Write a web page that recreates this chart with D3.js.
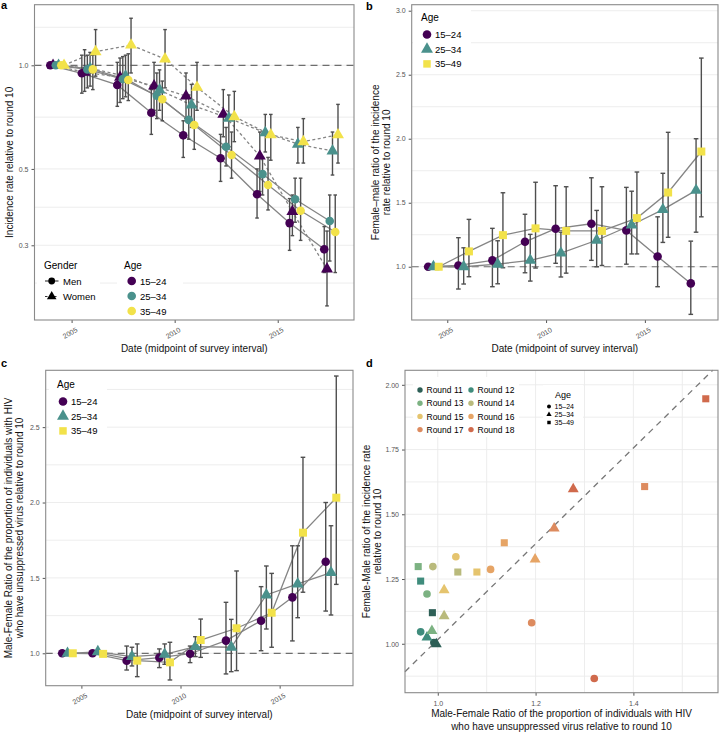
<!DOCTYPE html>
<html lang="en">
<head>
<meta charset="UTF-8">
<title>Incidence and unsuppressed virus ratios by round</title>
<script src="https://cdn.jsdelivr.net/npm/d3@7"></script>
<style>
  body { margin: 0; background: white; }
  svg text { font-family: 'Liberation Sans', Arial, Helvetica, sans-serif; }
</style>
</head>
<body>
<svg id="chart" width="720" height="734"></svg>
<script>
// ---- data (rounds 10-18) ----
var roundDates = [2004.3, 2005.83, 2007.55, 2009.2, 2010.75, 2012.56, 2014.33, 2015.91, 2017.59];
var ageGroups = ["15–24", "25–34", "35–49"];
var genders = ["Men", "Women"];
var dateTicks = [2005, 2010, 2015];

// panel a: incidence rate relative to round 10 (log scale)
var aMen1524 = [1, 0.948, 0.877, 0.728, 0.626, 0.537, 0.422, 0.348, 0.292];
var aMen1524Lo = [1, 0.83, 0.76, 0.63, 0.54, 0.46, 0.36, 0.29, 0.25];
var aMen1524Hi = [1, 1.07, 1.02, 0.85, 0.69, 0.63, 0.50, 0.41, 0.34];
var aWom1524 = [1, 0.955, 0.923, 0.871, 0.814, 0.721, 0.545, 0.376, 0.256];
var aWom1524Lo = [1, 0.84, 0.78, 0.74, 0.70, 0.62, 0.43, 0.32, 0.20];
var aWom1524Hi = [1, 1.11, 1.05, 1.02, 0.95, 0.85, 0.64, 0.42, 0.33];
var aMen2534 = [1, 0.973, 0.912, 0.816, 0.694, 0.580, 0.483, 0.408, 0.353];
var aMen2534Lo = [1, 0.86, 0.80, 0.70, 0.61, 0.51, 0.42, 0.35, 0.27];
var aMen2534Hi = [1, 1.07, 1.06, 0.95, 0.82, 0.66, 0.54, 0.47, 0.42];
var aWom2534 = [1, 0.98, 0.93, 0.848, 0.767, 0.702, 0.637, 0.590, 0.564];
var aWom2534Lo = [1, 0.87, 0.81, 0.74, 0.66, 0.58, 0.56, 0.52, 0.48];
var aWom2534Hi = [1, 1.09, 1.07, 0.97, 0.88, 0.82, 0.72, 0.66, 0.64];
var aMen3549 = [1, 0.973, 0.906, 0.797, 0.671, 0.549, 0.449, 0.378, 0.328];
var aMen3549Lo = [1, 0.85, 0.79, 0.69, 0.57, 0.47, 0.38, 0.31, 0.25];
var aMen3549Hi = [1, 1.07, 1.08, 0.90, 0.76, 0.64, 0.54, 0.47, 0.42];
var aWom3549 = [1, 1.095, 1.145, 1.043, 0.863, 0.709, 0.628, 0.600, 0.628];
var aWom3549Lo = [1, 0.93, 0.95, 0.86, 0.74, 0.60, 0.53, 0.52, 0.52];
var aWom3549Hi = [1, 1.27, 1.37, 1.27, 1.02, 0.84, 0.72, 0.70, 0.77];

// panel b: female-male ratio of incidence relative to round 10
var b1524 = [1, 1.01, 1.05, 1.195, 1.297, 1.336, 1.284, 1.08, 0.87];
var b1524Lo = [1, 0.826, 0.844, 0.953, 1.027, 1.05, 1.02, 0.844, 0.628];
var b1524Hi = [1, 1.227, 1.30, 1.41, 1.633, 1.695, 1.62, 1.39, 1.20];
var b2534 = [1, 1.0, 1.02, 1.05, 1.107, 1.207, 1.326, 1.446, 1.597];
var b2534Lo = [1, 0.865, 0.867, 0.888, 0.92, 1.0, 1.10, 1.19, 1.27];
var b2534Hi = [1, 1.148, 1.203, 1.253, 1.27, 1.44, 1.59, 1.73, 2.0];
var b3549 = [1, 1.12, 1.247, 1.30, 1.28, 1.28, 1.38, 1.58, 1.90];
var b3549Lo = [1, 0.922, 0.992, 0.99, 0.95, 1.01, 1.10, 1.23, 1.39];
var b3549Hi = [1, 1.37, 1.578, 1.66, 1.625, 1.625, 1.74, 2.05, 2.63];

// panel c: male-female ratio of proportion with unsuppressed virus
var c1524 = [1, 1.0, 0.951, 0.971, 0.997, 1.084, 1.216, 1.371, 1.607];
var c1524Lo = [1, 1.0, 0.889, 0.905, 0.938, 0.863, 1.017, 1.082, 1.28];
var c1524Hi = [1, 1.0, 1.048, 1.029, 1.048, 1.338, 1.442, 1.713, 2.0];
var c2534 = [1, 1.01, 0.978, 0.993, 1.044, 1.040, 1.387, 1.46, 1.535];
var c2534Lo = [1, 1.01, 0.916, 0.927, 0.978, 0.878, 1.161, 1.236, 1.254];
var c2534Hi = [1, 1.01, 1.04, 1.062, 1.11, 1.225, 1.579, 1.713, 1.846];
var c3549 = [1, 0.996, 0.951, 0.940, 1.088, 1.166, 1.269, 1.80, 2.032];
var c3549Lo = [1, 0.996, 0.845, 0.823, 0.973, 0.885, 1.04, 1.405, 1.457];
var c3549Hi = [1, 0.996, 1.062, 1.073, 1.227, 1.546, 1.53, 2.30, 2.839];

// panel d: rounds 11-18, x = unsuppressed ratio, y = incidence ratio
var dRounds = ["Round 11", "Round 12", "Round 13", "Round 14", "Round 15", "Round 16", "Round 17", "Round 18"];
var d1524x = [0.992, 0.965, 0.978, 0.990, 1.037, 1.108, 1.192, 1.320];
var d1524y = [1.005, 1.046, 1.192, 1.298, 1.336, 1.287, 1.081, 0.866];
var d2534x = [0.997, 0.978, 0.988, 1.013, 1.013, 1.199, 1.238, 1.277];
var d2534y = [0.999, 1.025, 1.050, 1.107, 1.207, 1.326, 1.446, 1.597];
var d3549x = [0.989, 0.965, 0.960, 1.041, 1.080, 1.136, 1.423, 1.548];
var d3549y = [1.120, 1.242, 1.298, 1.277, 1.277, 1.390, 1.607, 1.946];
var dLineSlope = 1.85, dLineIntercept = -0.834;

// ---- styles ----
var ageColors = ["#440154", "#4a918c", "#f2e24a"];
var roundColors = ["#2d5f56", "#3f8c7c", "#7cb282", "#b9ba7c", "#e5c46e", "#e6a465", "#dd8b5f", "#d06a4c"];
var gridColor = "#ebebeb", lineColor = "#858585", barColor = "#4f4f4f";
var shapes = [d3.symbolCircle, d3.symbolTriangle, d3.symbolSquare];

var svg = d3.select("#chart");

function drawPanel(p) {
  var x = d3.scaleLinear().domain(p.xDomain).range([p.left, p.right]);
  var y = (p.log ? d3.scaleLog() : d3.scaleLinear()).domain(p.yDomain).range([p.bottom, p.top]);
  var g = svg.append("g");

  // grid lines
  g.selectAll(null).data(p.yGrid).enter().append("line")
    .attr("x1", p.left).attr("x2", p.right)
    .attr("y1", function(d) { return y(d); }).attr("y2", function(d) { return y(d); })
    .attr("stroke", gridColor).attr("stroke-width", 0.9);
  if (p.xGrid) {
    g.selectAll(null).data(p.xGrid).enter().append("line")
      .attr("y1", p.top).attr("y2", p.bottom)
      .attr("x1", function(d) { return x(d); }).attr("x2", function(d) { return x(d); })
      .attr("stroke", gridColor).attr("stroke-width", 0.9);
  }

  // axes
  var xa = g.append("g").attr("transform", "translate(0," + p.bottom + ")")
    .call(d3.axisBottom(x).tickValues(p.xTicks).tickSize(3).tickPadding(5).tickFormat(p.xFormat));
  var ya = g.append("g").attr("transform", "translate(" + p.left + ",0)")
    .call(d3.axisLeft(y).tickValues(p.yTicks).tickSize(3).tickPadding(3).tickFormat(p.yFormat));
  [xa, ya].forEach(function(a) {
    a.select(".domain").remove();
    a.selectAll("line").attr("stroke", "#555");
    a.selectAll("text").attr("fill", "#555").style("font-size", "7px");
  });
  if (p.rotateX) {
    xa.selectAll("text")
      .attr("text-anchor", "end").attr("y", 0).attr("dy", "0.7em")
      .attr("transform", "translate(3.5,7) rotate(-30)");
  }

  // axis titles
  var xt = g.append("text").attr("x", (p.left + p.right) / 2).attr("y", p.xTitleY)
    .attr("text-anchor", "middle").style("font-size", "10px").attr("fill", "#111");
  p.xTitle.forEach(function(t, i) {
    xt.append("tspan").attr("x", (p.left + p.right) / 2).attr("dy", i ? 13 : 0).text(t);
  });
  var cy = (p.top + p.bottom) / 2;
  p.yTitle.forEach(function(t, i) {
    g.append("text")
      .attr("transform", "translate(" + (p.yTitleX + i * 10.5) + "," + cy + ") rotate(-90)")
      .attr("text-anchor", "middle").style("font-size", "10px").attr("fill", "#111")
      .text(t);
  });

  // panel letter
  g.append("text").attr("x", p.letterX).attr("y", p.letterY)
    .style("font-size", "11px").style("font-weight", "bold").text(p.letter);

  return { x: x, y: y, g: g, p: p };
}

function refLine(P, v) {
  P.g.append("line")
    .attr("x1", P.p.left).attr("x2", P.p.right)
    .attr("y1", P.y(v)).attr("y2", P.y(v))
    .attr("stroke", "#6e6e6e").attr("stroke-width", 1.2).attr("stroke-dasharray", "7,5");
}

function border(P) {
  P.g.append("rect").attr("x", P.p.left).attr("y", P.p.top)
    .attr("width", P.p.right - P.p.left).attr("height", P.p.bottom - P.p.top)
    .attr("fill", "none").attr("stroke", "#8a8a8a").attr("stroke-width", 1.1);
}

// series: {xs (dates), est, lo, hi, color, shape, size, dashed}
function drawSeriesLines(P, list) {
  var line = d3.line().x(function(d) { return P.x(d[0]); }).y(function(d) { return P.y(d[1]); });
  list.forEach(function(s) {
    P.g.append("path").datum(s.xs.map(function(d, i) { return [d, s.est[i]]; }))
      .attr("d", line).attr("fill", "none").attr("stroke", lineColor).attr("stroke-width", 1.3)
      .attr("stroke-dasharray", s.dashed ? "3,2.5" : null);
  });
}
function drawSeriesBars(P, list, cap) {
  list.forEach(function(s) {
    s.xs.forEach(function(d, i) {
      if (s.lo[i] === s.hi[i]) return;
      var px = P.x(d), y1 = P.y(s.lo[i]), y2 = P.y(s.hi[i]);
      var gb = P.g.append("g").attr("stroke", barColor).attr("stroke-width", 1.4);
      gb.append("line").attr("x1", px).attr("x2", px).attr("y1", y1).attr("y2", y2);
      gb.append("line").attr("x1", px - cap).attr("x2", px + cap).attr("y1", y1).attr("y2", y1);
      gb.append("line").attr("x1", px - cap).attr("x2", px + cap).attr("y1", y2).attr("y2", y2);
    });
  });
}
function drawSeriesPoints(P, list) {
  list.forEach(function(s) {
    P.g.selectAll(null).data(s.xs.map(function(d, i) { return [d, s.est[i]]; })).enter()
      .append("path")
      .attr("d", d3.symbol().type(s.shape).size(s.size))
      .attr("transform", function(d) { return "translate(" + P.x(d[0]) + "," + P.y(d[1]) + ")"; })
      .attr("fill", s.color);
  });
}
function dodge(n, k, width) {
  var off = (k - (n - 1) / 2) * width / n;
  return roundDates.map(function(d) { return d + off; });
}

var xDateDomain = [2003.2, 2018.7];
var yearFmt = d3.format("d");

// ================= panel a =================
var A = drawPanel({
  left: 34.5, right: 354, top: 4.7, bottom: 320, log: true,
  xDomain: xDateDomain, yDomain: [0.182, 1.5],
  xTicks: dateTicks, xFormat: yearFmt, rotateX: true,
  yTicks: [0.3, 0.5, 1.0], yFormat: d3.format(".1f"),
  yGrid: [0.233, 0.3, 0.387, 0.5, 0.707, 1.0, 1.29],
  xTitle: ["Date (midpoint of survey interval)"], xTitleY: 352,
  yTitle: ["Incidence rate relative to round 10"], yTitleX: 12.5,
  letter: "a", letterX: 1, letterY: 8.5
});
refLine(A, 1);
var aEst = [aMen1524, aWom1524, aMen2534, aWom2534, aMen3549, aWom3549];
var aLo = [aMen1524Lo, aWom1524Lo, aMen2534Lo, aWom2534Lo, aMen3549Lo, aWom3549Lo];
var aHi = [aMen1524Hi, aWom1524Hi, aMen2534Hi, aWom2534Hi, aMen3549Hi, aWom3549Hi];
var aSeries = aEst.map(function(est, k) {
  var age = Math.floor(k / 2), women = k % 2 === 1;
  return { xs: dodge(6, k, 0.8), est: est, lo: aLo[k], hi: aHi[k], color: ageColors[age],
           shape: women ? d3.symbolTriangle : d3.symbolCircle, size: women ? 62 : 58, dashed: women };
});
drawSeriesLines(A, aSeries);
drawSeriesBars(A, aSeries, 1.8);
drawSeriesPoints(A, aSeries);

// legends for panel a
A.g.append("rect").attr("x", 37).attr("y", 256).attr("width", 63).attr("height", 50).attr("fill", "white");
A.g.append("rect").attr("x", 117).attr("y", 256).attr("width", 66).attr("height", 62).attr("fill", "white");
A.g.append("text").attr("x", 44).attr("y", 269).style("font-size", "10px").text("Gender");
genders.forEach(function(gname, i) {
  var yy = 281 + i * 15.5;
  A.g.append("line").attr("x1", 45).attr("x2", 58.5).attr("y1", yy).attr("y2", yy)
    .attr("stroke", "#333").attr("stroke-width", 1.1).attr("stroke-dasharray", i ? "2.5,2" : null);
  A.g.append("path").attr("d", d3.symbol().type(i ? d3.symbolTriangle : d3.symbolCircle).size(i ? 40 : 36))
    .attr("transform", "translate(51.7," + yy + ")").attr("fill", "black");
  A.g.append("text").attr("x", 63).attr("y", yy + 3.5).style("font-size", "9.5px").text(gname);
});
A.g.append("text").attr("x", 124).attr("y", 269).style("font-size", "10px").text("Age");
ageGroups.forEach(function(a, i) {
  var yy = 281 + i * 15;
  A.g.append("path").attr("d", d3.symbol().type(d3.symbolCircle).size(58))
    .attr("transform", "translate(131.7," + yy + ")").attr("fill", ageColors[i]);
  A.g.append("text").attr("x", 140).attr("y", yy + 3.5).style("font-size", "9.5px").text(a);
});
border(A);

// ================= panel b =================
var B = drawPanel({
  left: 411.7, right: 718, top: 4.7, bottom: 320,
  xDomain: xDateDomain, yDomain: [0.584, 3.047],
  xTicks: dateTicks, xFormat: yearFmt, rotateX: true,
  yTicks: [1.0, 1.5, 2.0, 2.5, 3.0], yFormat: d3.format(".1f"),
  yGrid: [0.75, 1.0, 1.25, 1.5, 1.75, 2.0, 2.25, 2.5, 2.75, 3.0],
  xTitle: ["Date (midpoint of survey interval)"], xTitleY: 351.5,
  yTitle: ["Female–male ratio of the incidence", "rate relative to round 10"], yTitleX: 379,
  letter: "b", letterX: 366, letterY: 9.5
});
refLine(B, 1);
function threeSeries(est, lo, hi) {
  return est.map(function(e, k) {
    return { xs: dodge(3, k, 0.8), est: e, lo: lo[k], hi: hi[k], color: ageColors[k],
             shape: shapes[k], size: [58, 62, 64][k], dashed: false };
  });
}
var bSeries = threeSeries([b1524, b2534, b3549], [b1524Lo, b2534Lo, b3549Lo], [b1524Hi, b2534Hi, b3549Hi]);
drawSeriesLines(B, bSeries);
drawSeriesBars(B, bSeries, 2.3);
drawSeriesPoints(B, bSeries);

function ageLegend(P, x0, y0, bw, bh) {
  P.g.append("rect").attr("x", x0 - 8).attr("y", y0 - 13).attr("width", bw).attr("height", bh).attr("fill", "white");
  P.g.append("text").attr("x", x0).attr("y", y0).style("font-size", "10px").text("Age");
  ageGroups.forEach(function(a, i) {
    var yy = y0 + 13.5 + i * 14.7;
    P.g.append("path").attr("d", d3.symbol().type(shapes[i]).size([58, 62, 56][i]))
      .attr("transform", "translate(" + (x0 + 6) + "," + yy + ")").attr("fill", ageColors[i]);
    P.g.append("text").attr("x", x0 + 14).attr("y", yy + 3.5).style("font-size", "9.5px").text(a);
  });
}
ageLegend(B, 421, 21, 58, 64);
border(B);

// ================= panel c =================
var C = drawPanel({
  left: 45.7, right: 353, top: 370.3, bottom: 685.7,
  xDomain: xDateDomain, yDomain: [0.785, 2.877],
  xTicks: dateTicks, xFormat: yearFmt, rotateX: true,
  yTicks: [1.0, 1.5, 2.0, 2.5], yFormat: d3.format(".1f"),
  yGrid: [1.0, 1.25, 1.5, 1.75, 2.0, 2.25, 2.5, 2.75],
  xTitle: ["Date (midpoint of survey interval)"], xTitleY: 717.5,
  yTitle: ["Male-Female Ratio of the proportion of individuals with HIV", "who have unsuppressed virus relative to round 10"], yTitleX: 12,
  letter: "c", letterX: 1, letterY: 367
});
refLine(C, 1);
var cSeries = threeSeries([c1524, c2534, c3549], [c1524Lo, c2534Lo, c3549Lo], [c1524Hi, c2534Hi, c3549Hi]);
drawSeriesLines(C, cSeries);
drawSeriesBars(C, cSeries, 2.3);
drawSeriesPoints(C, cSeries);
ageLegend(C, 57, 388, 58, 64);
border(C);

// ================= panel d =================
var D = drawPanel({
  left: 405, right: 718, top: 370.3, bottom: 692.7,
  xDomain: [0.933, 1.573], yDomain: [0.811, 2.056],
  xTicks: [1.0, 1.2, 1.4], xFormat: d3.format(".1f"), rotateX: false,
  yTicks: [1.0, 1.25, 1.5, 1.75, 2.0], yFormat: d3.format(".2f"),
  yGrid: [0.875, 1.0, 1.125, 1.25, 1.375, 1.5, 1.625, 1.75, 1.875, 2.0],
  xGrid: [1.0, 1.1, 1.2, 1.3, 1.4, 1.5],
  xTitle: ["Male-Female Ratio of the proportion of individuals with HIV", "who have unsuppressed virus relative to round 10"], xTitleY: 717,
  yTitle: ["Female-Male ratio of the incidence rate", "relative to round 10"], yTitleX: 370,
  letter: "d", letterX: 366, letterY: 367
});
// dashed reference line across the panel
(function() {
  var xs = D.x.domain();
  var pts = xs.map(function(v) { return [v, dLineIntercept + dLineSlope * v]; });
  var ymax = D.y.domain()[1], ymin = D.y.domain()[0];
  pts = pts.map(function(q) {
    var yv = Math.max(ymin, Math.min(ymax, q[1]));
    return [(yv - dLineIntercept) / dLineSlope, yv];
  });
  D.g.append("line")
    .attr("x1", D.x(pts[0][0])).attr("y1", D.y(pts[0][1]))
    .attr("x2", D.x(pts[1][0])).attr("y2", D.y(pts[1][1]))
    .attr("stroke", "#777").attr("stroke-width", 1.3).attr("stroke-dasharray", "6,5");
})();
var dXs = [d1524x, d2534x, d3549x], dYs = [d1524y, d2534y, d3549y];
dXs.forEach(function(xs, k) {
  D.g.selectAll(null).data(xs.map(function(v, i) { return [v, dYs[k][i], i]; })).enter()
    .append("path")
    .attr("d", d3.symbol().type(shapes[k]).size([46, 52, 50][k]))
    .attr("transform", function(d) { return "translate(" + D.x(d[0]) + "," + D.y(d[1]) + ")"; })
    .attr("fill", function(d) { return roundColors[d[2]]; });
});
// round legend
D.g.append("rect").attr("x", 413).attr("y", 377).attr("width", 106).attr("height", 60).attr("fill", "white");
dRounds.forEach(function(r, i) {
  var col = i % 2, row = Math.floor(i / 2);
  var xx = 420 + col * 51, yy = 390 + row * 13.2;
  D.g.append("circle").attr("cx", xx).attr("cy", yy).attr("r", 2.7).attr("fill", roundColors[i]);
  D.g.append("text").attr("x", xx + 6.5).attr("y", yy + 3.1).style("font-size", "8.5px").text(r);
});
// age legend (shapes)
D.g.append("rect").attr("x", 543).attr("y", 385).attr("width", 40).attr("height", 46).attr("fill", "white");
D.g.append("text").attr("x", 563).attr("y", 397.5).attr("text-anchor", "middle").style("font-size", "9px").text("Age");
ageGroups.forEach(function(a, i) {
  var yy = 406.5 + i * 8;
  D.g.append("path").attr("d", d3.symbol().type(shapes[i]).size(12))
    .attr("transform", "translate(549," + yy + ")").attr("fill", "black");
  D.g.append("text").attr("x", 554.5).attr("y", yy + 2.5).style("font-size", "7px").text(a);
});
border(D);
</script>
</body>
</html>
